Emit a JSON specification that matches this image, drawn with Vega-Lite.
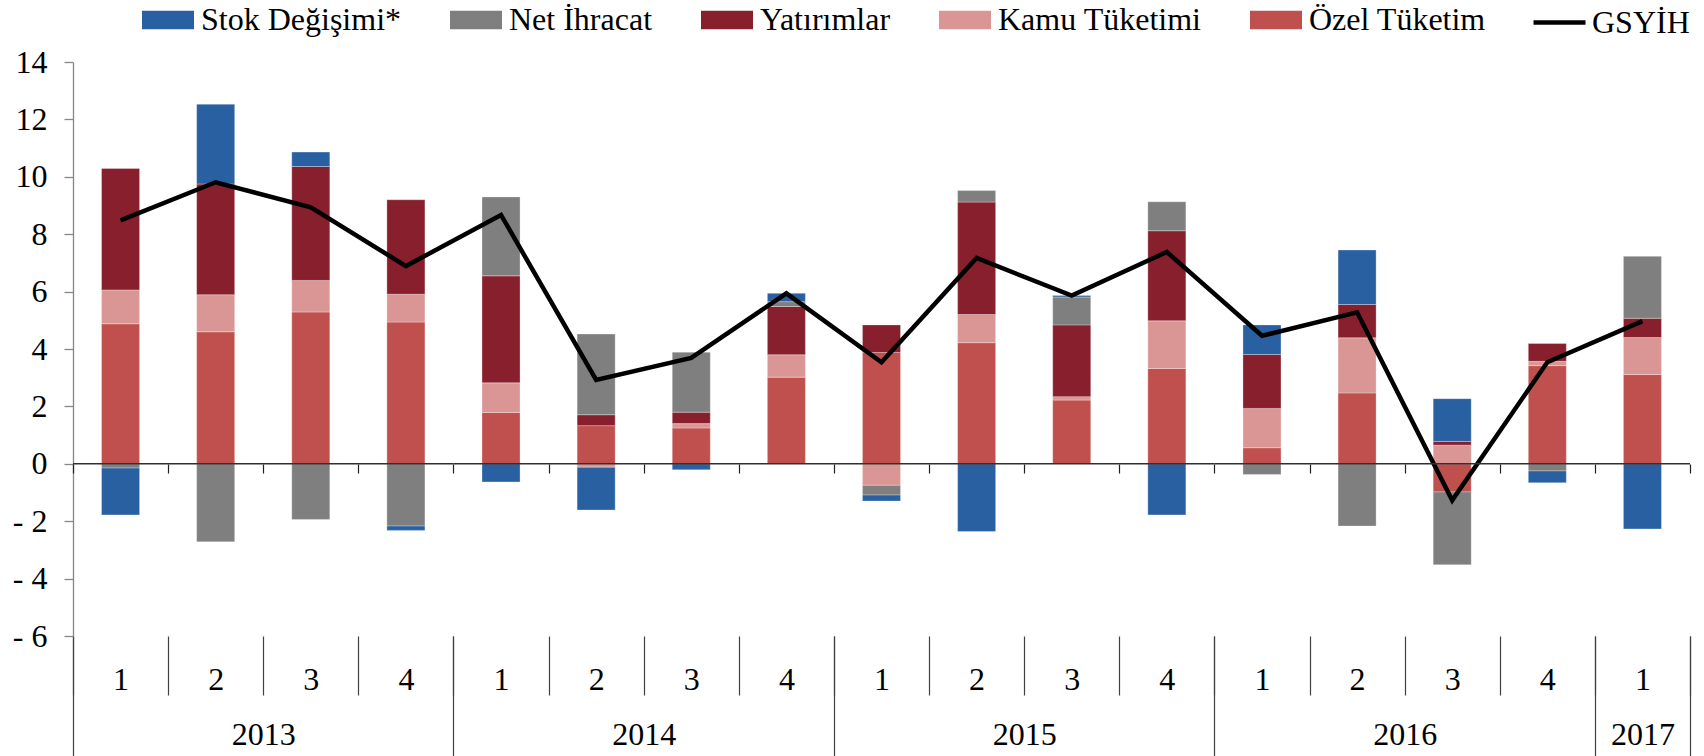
{
  "$schema": "https://vega.github.io/schema/vega-lite/v6.json",
  "autosize": {"type": "none"},
  "width": 1617,
  "height": 574,
  "padding": {"left": 73, "top": 62, "right": 14, "bottom": 120},
  "background": "white",
  "config": {
    "font": "Liberation Serif",
    "view": {"stroke": null},
    "axis": {"grid": false, "labelFont": "Liberation Serif", "labelColor": "black", "labelFontSize": 32, "title": null},
    "legend": {"labelFont": "Liberation Serif", "labelFontSize": 32, "labelColor": "black", "layout": {"top": {"anchor": "end", "direction": "horizontal", "margin": 45}}}
  },
  "datasets": {
    "quarters": [
      {"period": "2013-1", "Özel Tüketim": 4.88, "Kamu Tüketimi": 1.18, "Yatırımlar": 4.23, "Net İhracat": -0.15, "Stok Değişimi*": -1.63, "GSYİH": 8.48},
      {"period": "2013-2", "Özel Tüketim": 4.60, "Kamu Tüketimi": 1.29, "Yatırımlar": 3.86, "Net İhracat": -2.72, "Stok Değişimi*": 2.78, "GSYİH": 9.81},
      {"period": "2013-3", "Özel Tüketim": 5.29, "Kamu Tüketimi": 1.10, "Yatırımlar": 3.97, "Net İhracat": -1.94, "Stok Değişimi*": 0.50, "GSYİH": 8.94},
      {"period": "2013-4", "Özel Tüketim": 4.94, "Kamu Tüketimi": 0.97, "Yatırımlar": 3.29, "Net İhracat": -2.17, "Stok Değişimi*": -0.15, "GSYİH": 6.89},
      {"period": "2014-1", "Özel Tüketim": 1.79, "Kamu Tüketimi": 1.03, "Yatırımlar": 3.73, "Net İhracat": 2.75, "Stok Değişimi*": -0.63, "GSYİH": 8.67},
      {"period": "2014-2", "Özel Tüketim": 1.33, "Kamu Tüketimi": -0.12, "Yatırımlar": 0.38, "Net İhracat": 2.81, "Stok Değişimi*": -1.49, "GSYİH": 2.92},
      {"period": "2014-3", "Özel Tüketim": 1.25, "Kamu Tüketimi": 0.15, "Yatırımlar": 0.40, "Net İhracat": 2.09, "Stok Değişimi*": -0.21, "GSYİH": 3.69},
      {"period": "2014-4", "Özel Tüketim": 3.02, "Kamu Tüketimi": 0.78, "Yatırımlar": 1.68, "Net İhracat": 0.17, "Stok Değişimi*": 0.29, "GSYİH": 5.94},
      {"period": "2015-1", "Özel Tüketim": 3.88, "Kamu Tüketimi": -0.75, "Yatırımlar": 0.96, "Net İhracat": -0.34, "Stok Değişimi*": -0.21, "GSYİH": 3.54},
      {"period": "2015-2", "Özel Tüketim": 4.22, "Kamu Tüketimi": 0.98, "Yatırımlar": 3.92, "Net İhracat": 0.40, "Stok Değişimi*": -2.36, "GSYİH": 7.17},
      {"period": "2015-3", "Özel Tüketim": 2.22, "Kamu Tüketimi": 0.12, "Yatırımlar": 2.50, "Net İhracat": 0.97, "Stok Değişimi*": 0.05, "GSYİH": 5.86},
      {"period": "2015-4", "Özel Tüketim": 3.32, "Kamu Tüketimi": 1.66, "Yatırımlar": 3.14, "Net İhracat": 1.01, "Stok Değişimi*": -1.78, "GSYİH": 7.38},
      {"period": "2016-1", "Özel Tüketim": 0.56, "Kamu Tüketimi": 1.37, "Yatırımlar": 1.88, "Net İhracat": -0.37, "Stok Değişimi*": 1.03, "GSYİH": 4.46},
      {"period": "2016-2", "Özel Tüketim": 2.47, "Kamu Tüketimi": 1.92, "Yatırımlar": 1.16, "Net İhracat": -2.17, "Stok Değişimi*": 1.90, "GSYİH": 5.28},
      {"period": "2016-3", "Özel Tüketim": -0.98, "Kamu Tüketimi": 0.65, "Yatırımlar": 0.13, "Net İhracat": -2.54, "Stok Değişimi*": 1.49, "GSYİH": -1.27},
      {"period": "2016-4", "Özel Tüketim": 3.42, "Kamu Tüketimi": 0.15, "Yatırımlar": 0.62, "Net İhracat": -0.25, "Stok Değişimi*": -0.41, "GSYİH": 3.54},
      {"period": "2017-1", "Özel Tüketim": 3.11, "Kamu Tüketimi": 1.29, "Yatırımlar": 0.67, "Net İhracat": 2.16, "Stok Değişimi*": -2.27, "GSYİH": 4.97}
    ],
    "years": [
      {"year": "2013", "start": 0, "end": 4},
      {"year": "2014", "start": 4, "end": 8},
      {"year": "2015", "start": 8, "end": 12},
      {"year": "2016", "start": 12, "end": 16},
      {"year": "2017", "start": 16, "end": 17}
    ]
  },
  "layer": [
    {
      "data": {"name": "quarters"},
      "layer": [
        {
          "transform": [
            {"fold": ["Özel Tüketim", "Kamu Tüketimi", "Yatırımlar", "Net İhracat", "Stok Değişimi*"], "as": ["component", "value"]},
            {"window": [{"op": "row_number", "as": "stackOrder"}]}
          ],
          "mark": {"type": "bar", "width": {"band": 0.4}, "stroke": "white", "strokeWidth": 0.6, "strokeOpacity": 0.5},
          "encoding": {
            "x": {
              "field": "period", "type": "nominal", "sort": null,
              "scale": {"paddingInner": 0, "paddingOuter": 0},
              "axis": {
                "orient": "bottom", "domain": false, "ticks": true, "tickBand": "extent",
                "tickSize": 59, "tickColor": "#404040", "tickWidth": 1.2,
                "labelExpr": "split(datum.value, '-')[1]", "labelAngle": 0,
                "labelBaseline": "middle", "labelPadding": -16, "title": null
              }
            },
            "y": {
              "field": "value", "type": "quantitative", "stack": "zero",
              "scale": {"domain": [-6, 14], "nice": false, "zero": false},
              "axis": {
                "values": [-6, -4, -2, 0, 2, 4, 6, 8, 10, 12, 14],
                "labelExpr": "datum.value < 0 ? '- ' + abs(datum.value) : datum.label",
                "domainColor": "#868686", "domainWidth": 1.3, "tickColor": "#868686", "tickWidth": 1.3,
                "tickSize": 9, "labelPadding": 17, "title": null
              }
            },
            "color": {
              "field": "component", "type": "nominal",
              "scale": {
                "domain": ["Stok Değişimi*", "Net İhracat", "Yatırımlar", "Kamu Tüketimi", "Özel Tüketim"],
                "range": ["#2860A1", "#7F7F7F", "#871F2D", "#D99694", "#C0504D"]
              },
              "legend": {
                "orient": "top", "direction": "horizontal", "title": null,
                "symbolSize": 2704, "labelOffset": 7, "columnPadding": 48, "labelLimit": 0, "offset": 21,
                "symbolType": "M-1,-0.36H1V0.36H-1Z", "symbolStrokeWidth": 0
              }
            },
            "order": {"field": "stackOrder", "type": "quantitative"}
          }
        },
        {
          "mark": {"type": "line", "strokeWidth": 4.5, "strokeJoin": "miter"},
          "encoding": {
            "x": {
              "field": "period", "type": "nominal", "sort": null,
              "axis": {
                "orient": "bottom", "offset": -172, "domain": false, "ticks": true, "tickBand": "extent",
                "tickSize": 9, "tickColor": "#202020", "tickWidth": 1.2, "labels": false, "title": null, "zindex": 1
              }
            },
            "y": {"field": "GSYİH", "type": "quantitative", "title": null},
            "stroke": {
              "datum": "GSYİH",
              "scale": {"domain": ["GSYİH"], "range": ["#000000"]},
              "legend": {
                "orient": "top", "direction": "horizontal", "title": null,
                "symbolSize": 2704, "labelOffset": 4, "labelLimit": 0, "offset": 21,
                "symbolType": "M-1,-0.36M-1,0H1M1,0.36", "symbolStrokeWidth": 4.5, "symbolStrokeColor": "#000000"
              }
            }
          }
        }
      ],
      "resolve": {"axis": {"x": "independent"}}
    },
    {
      "data": {"name": "years"},
      "mark": {"type": "rule", "color": "#303030", "strokeWidth": 1.4},
      "encoding": {
        "x": {
          "field": "start", "type": "quantitative",
          "scale": {"domain": [0, 17], "nice": false, "zero": false},
          "axis": {
            "orient": "bottom", "values": [0, 2, 4, 6, 8, 10, 12, 14, 16, 16.5, 17],
            "domain": false, "ticks": true,
            "tickSize": {"condition": {"test": "datum.value % 4 == 0 || datum.value == 17", "value": 120}, "value": 0},
            "tickColor": "#404040", "tickWidth": 1.2,
            "labelExpr": "(datum.value % 4 == 0 || datum.value == 17) ? '' : '' + (2013 + floor(datum.value / 4))",
            "labelBaseline": "middle", "labelPadding": 98, "labelOverlap": false, "labelFlush": false, "labelBound": false,
            "title": null
          }
        },
        "x2": {"field": "end"},
        "y": {"datum": 0}
      }
    }
  ],
  "resolve": {"scale": {"x": "independent"}, "axis": {"x": "independent"}}
}
